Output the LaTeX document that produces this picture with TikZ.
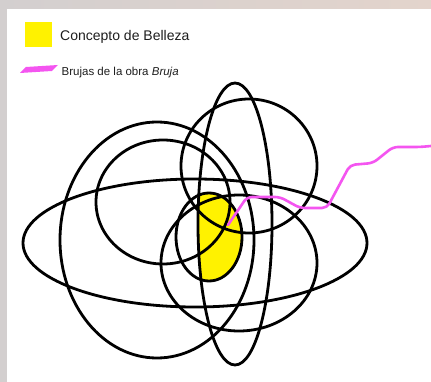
\documentclass[tikz,border=0pt]{standalone}
\usepackage{fontspec}
\setmainfont{Liberation Sans}
\usepackage{xcolor}
\usepackage{tikz}
\definecolor{bellezayellow}{HTML}{FFF200}
\definecolor{brujamagenta}{HTML}{F455F0}
\definecolor{marcogray}{HTML}{D3CFCF}
\definecolor{marcopink}{HTML}{E3D4CC}
\definecolor{textoink}{HTML}{1E1E1E}

\begin{document}
\begin{tikzpicture}[x=1pt,y=-1pt,
    ring/.style={line width=2.8pt,black},
    legendtext/.style={anchor=base west,inner sep=0pt,text=textoink}]
        \useasboundingbox (0,0) rectangle (431,382);
        % frame and white sheet
        \shade[left color=marcogray,right color=marcopink] (0,0) rectangle (431,382);
        \fill[white] (7,9) rectangle (431,382);
        % legend
        \fill[bellezayellow] (25,22) rectangle (52,47);
        \node[legendtext,font=\fontsize{14pt}{16pt}\selectfont] (belleza) at (60,41) {Concepto de Belleza};
        \fill[brujamagenta] (20,73) -- (26,67) -- (58,65) -- (52,71) -- cycle;
        \node[legendtext,font=\fontsize{11.5pt}{13pt}\selectfont] (brujas) at (61.5,76) {Brujas de la obra \textit{Bruja}};
        % yellow core
        \begin{scope}
          \clip (235,224) ellipse [x radius=37pt,y radius=141pt];
          \fill[bellezayellow] (209,237) ellipse [x radius=33pt,y radius=44pt];
        \end{scope}
        % rings
        \draw[ring] (195,243) ellipse [x radius=172pt,y radius=64pt];
        \draw[ring] (157,240) ellipse [x radius=97pt,y radius=118pt];
        \draw[ring] (163,202) ellipse [x radius=67pt,y radius=62pt];
        \draw[ring] (249,166) ellipse [x radius=68pt,y radius=67pt];
        \draw[ring] (239,263) ellipse [x radius=78pt,y radius=68pt];
        \draw[ring] (235,224) ellipse [x radius=37pt,y radius=141pt];
        \draw[ring] (209,237) ellipse [x radius=33pt,y radius=44pt];
        % witches' trail
        \draw[brujamagenta,line width=2.6pt,line join=round,line cap=round,rounded corners=5pt]
          (228,225) -- (247,197) -- (280,197) -- (300,208) -- (327,208) -- (350,165)
          -- (373,163) -- (393,147) -- (420,147) -- (431,146);
\end{tikzpicture}
\end{document}
